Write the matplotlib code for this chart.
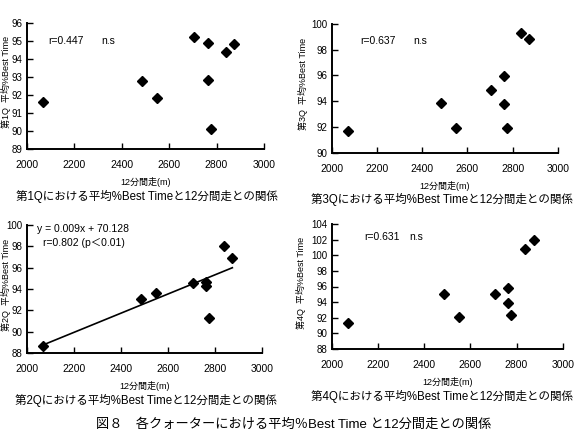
"""
Scatter of mean %Best Time per quarter against the 12-minute run distance.
"""

import numpy as np
import matplotlib
matplotlib.use("Agg")
import matplotlib.pyplot as plt

plt.rcParams['font.family'] = ['Liberation Sans', 'Noto Sans CJK JP', 'DejaVu Sans']

# 12-minute run distance (m), same athletes in every panel
run12 = [2070, 2485, 2550, 2705, 2762, 2762, 2775, 2838, 2874]

# mean %Best Time per quarter
q1 = [91.6, 92.75, 91.8, 95.2, 94.85, 92.8, 90.1, 94.35, 94.8]
q2 = [88.65, 93.1, 93.65, 94.55, 94.7, 94.3, 91.3, 98.0, 96.9]
q3 = [91.7, 93.85, 91.95, 94.9, 95.95, 93.75, 91.95, 99.3, 98.8]
q4 = [91.3, 95.0, 92.1, 95.0, 95.75, 93.9, 92.3, 100.85, 102.0]

# regression for 2Q
slope, intercept = 0.009, 70.128

x_ticks = [2000, 2200, 2400, 2600, 2800, 3000]
q1_ticks = [89, 90, 91, 92, 93, 94, 95, 96]
q2_ticks = [88, 90, 92, 94, 96, 98, 100]
q3_ticks = [90, 92, 94, 96, 98, 100]
q4_ticks = [88, 90, 92, 94, 96, 98, 100, 102, 104]

W, H = 576, 429
fig = plt.figure(figsize=(W / 100, H / 100), dpi=100)


def px_axes(left, right, top, bottom):
    return fig.add_axes([left / W, 1 - bottom / H, (right - left) / W, (bottom - top) / H])


def style(ax, yticks):
    ax.set_xlim(2000, 3000)
    ax.set_ylim(yticks[0], yticks[-1])
    ax.set_xticks(x_ticks)
    ax.set_yticks(yticks)
    for s in ['top', 'right']:
        ax.spines[s].set_visible(False)
    for s in ['left', 'bottom']:
        ax.spines[s].set_linewidth(1.4)
        ax.spines[s].set_color('black')
    ax.tick_params(axis='x', direction='in', length=4, width=1, pad=8, labelsize=7.5)
    ax.tick_params(axis='y', direction='in', length=4, width=1, pad=3, labelsize=7)
    ax.set_facecolor('none')


panels = [
    # data, ticks, axes box (l, r, t, b) px, quarter label, ylabel offset px
    (q1, q1_ticks, (26.7, 264, 22.7, 149), '1', 21),
    (q3, q3_ticks, (331.7, 558, 24, 152.7), '3', 29),
    (q2, q2_ticks, (26.7, 262, 225, 353), '2', 21),
    (q4, q4_ticks, (331.7, 562.7, 224, 349), '4', 31),
]

axes = {}
for vals, ticks, box, q, yoff in panels:
    ax = px_axes(*box)
    style(ax, ticks)
    ax.plot(run12, vals, linestyle='none', marker='D', ms=5, color='black')
    axes[q] = ax

    l, r, t, b = box
    cx = (l + r) / 2
    fig.text(cx / W, 1 - (b + 33) / H, '12分間走(m)', ha='center', va='center', fontsize=6.5)
    cap_x = min(cx + 2, W - 134)
    fig.text(cap_x / W, 1 - (b + 47) / H,
             f'第{q}Qにおける平均%Best Timeと12分間走との関係',
             ha='center', va='center', fontsize=8.3)
    fig.text((l - yoff) / W, 1 - ((t + b) / 2 - 4) / H, f'第{q}Q  平均%Best Time',
             rotation=90, ha='center', va='center', fontsize=6.5)

# 2Q regression line
xr = np.array([min(run12), max(run12)])
axes['2'].plot(xr, slope * xr + intercept, color='black', lw=1.2)

axes['1'].text(2090, 95.0, 'r=0.447', fontsize=7.5, va='center')
axes['1'].text(2315, 95.0, 'n.s', fontsize=7.5, va='center')
axes['3'].text(2125, 98.65, 'r=0.637', fontsize=7.5, va='center')
axes['3'].text(2360, 98.65, 'n.s', fontsize=7.5, va='center')
axes['4'].text(2140, 102.4, 'r=0.631', fontsize=7.5, va='center')
axes['4'].text(2335, 102.4, 'n.s', fontsize=7.5, va='center')
axes['2'].text(2042, 99.6, f'y = {slope}x + {intercept}', fontsize=7.5, va='center')
axes['2'].text(2071, 98.35, 'r=0.802 (p＜0.01)', fontsize=7.5, va='center')

fig.text(0.51, 1 - 424 / H, '図８　各クォーターにおける平均％Best Time と12分間走との関係',
         ha='center', va='center', fontsize=9.5)

fig.savefig('out.png', dpi=100)
